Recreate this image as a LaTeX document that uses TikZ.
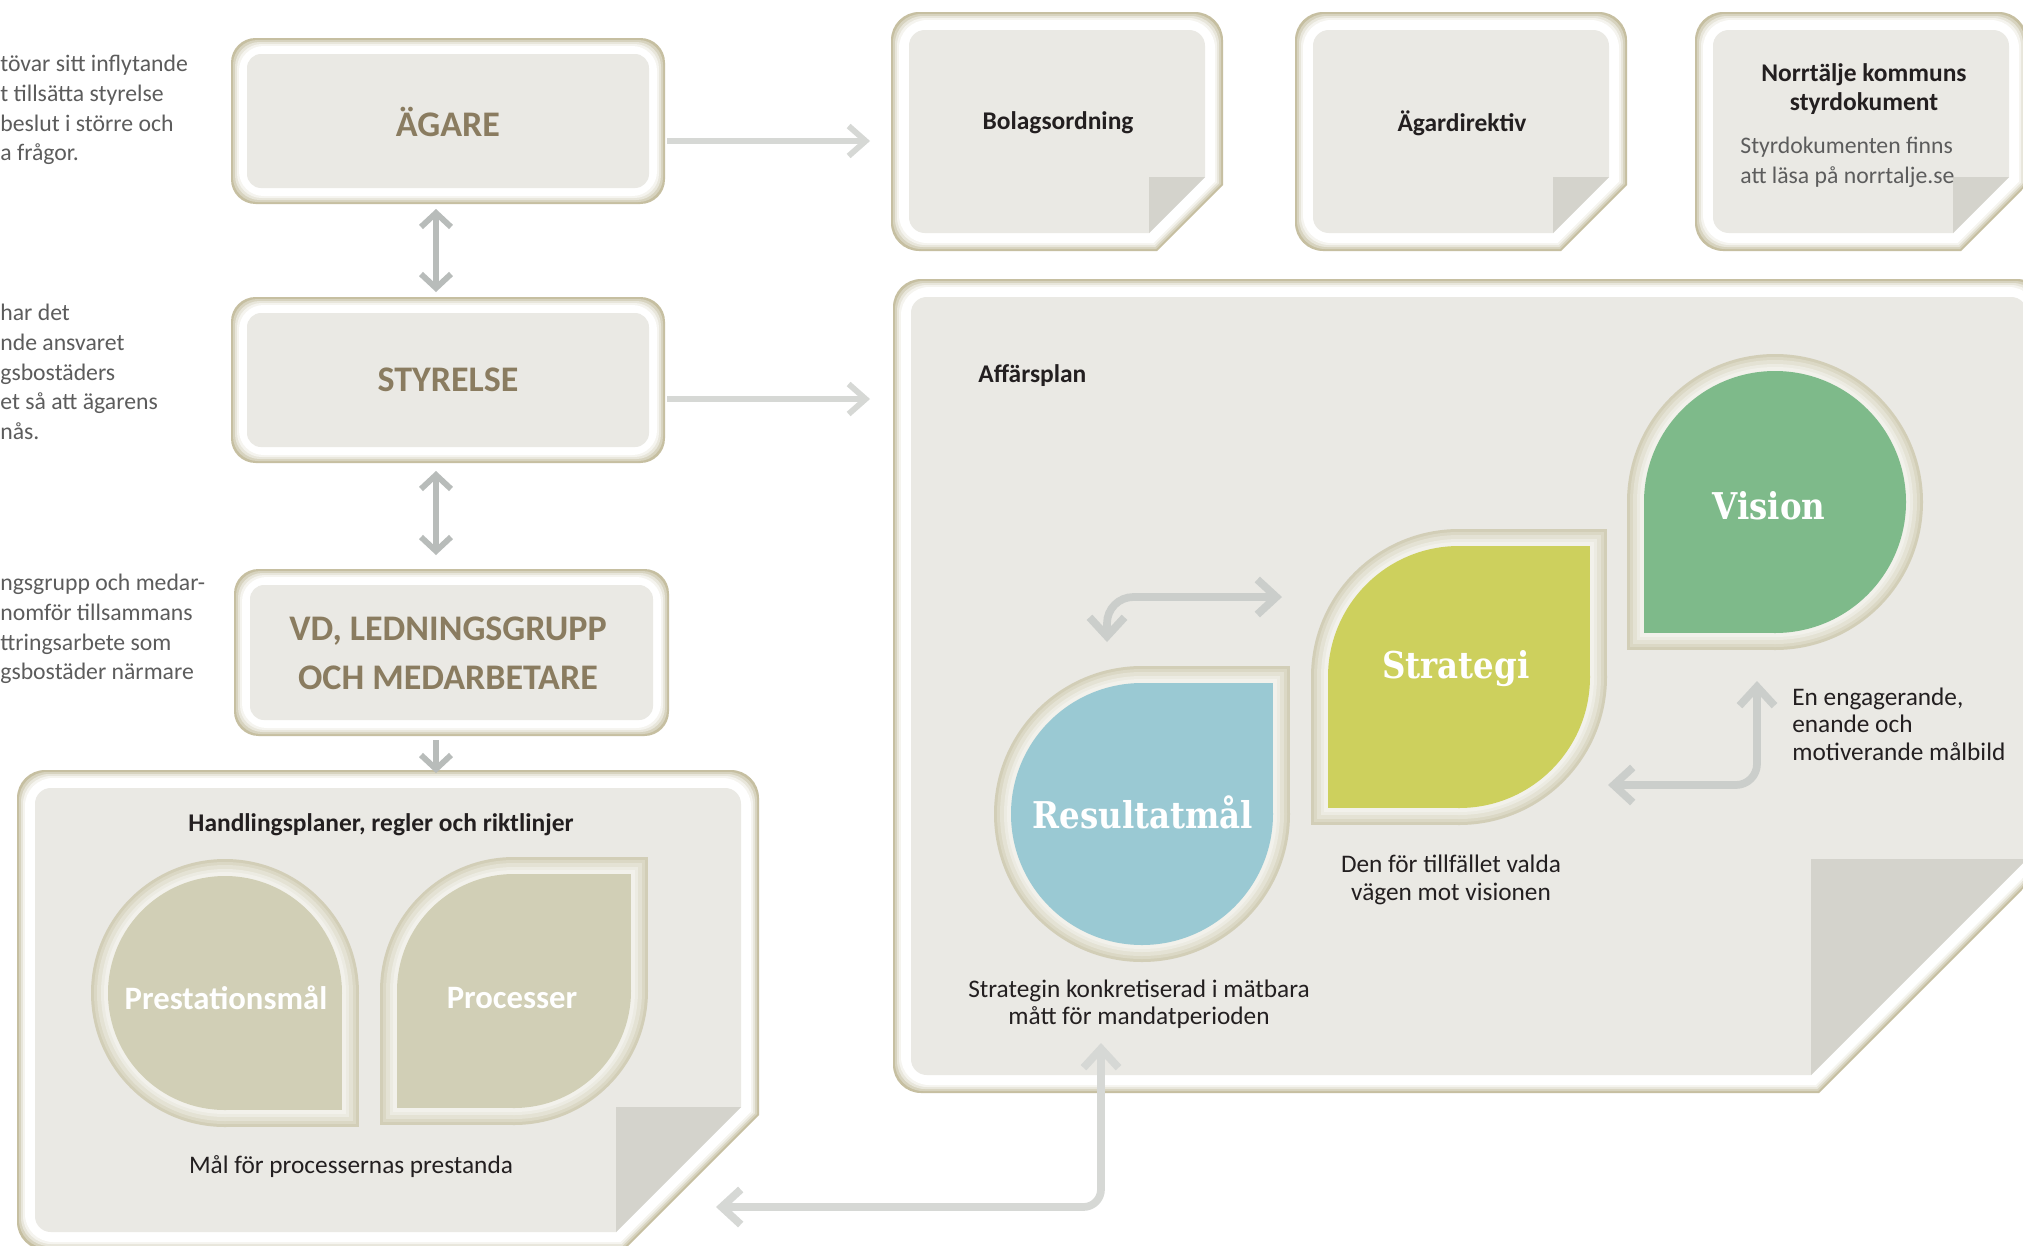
\documentclass[tikz,border=0pt]{standalone}
\usepackage{fontspec}
\setmainfont{Carlito}
\newfontfamily\slabfont[FakeStretch=0.88]{DejaVu Serif}
\usetikzlibrary{arrows.meta}

\definecolor{rimA}{HTML}{C6BFA1}
\definecolor{rimB}{HTML}{D7D3BF}
\definecolor{rimC}{HTML}{E8E6DB}
\definecolor{rimD}{HTML}{F5F4EF}
\definecolor{paper}{HTML}{EAE9E4}
\definecolor{fold}{HTML}{D4D3CC}
\definecolor{leafA}{HTML}{D2CEB7}
\definecolor{leafB}{HTML}{DBD8C5}
\definecolor{leafC}{HTML}{E4E2D4}
\definecolor{leafD}{HTML}{ECEBE2}
\definecolor{leafE}{HTML}{F2F1EB}
\definecolor{resultatfill}{HTML}{9AC9D3}
\definecolor{strategifill}{HTML}{CDD05D}
\definecolor{visionfill}{HTML}{7EBA8A}
\definecolor{planfill}{HTML}{D1CFB6}
\definecolor{titlebrown}{HTML}{8A7C60}
\definecolor{ink}{HTML}{231F20}
\definecolor{sidegrey}{HTML}{5C5C5C}
\definecolor{arrowdark}{HTML}{B8BCBA}
\definecolor{arrowmid}{HTML}{CBCECB}
\definecolor{arrowpale}{HTML}{D6D8D5}

% rounded plate with a bevelled rim
\newcommand\plate[4]{%
  \foreach \rimw/\rimc in {0/rimA,2/rimB,4/rimC,6/rimD,8/white}
    {\fill[\rimc, rounded corners=14pt] ({#1+\rimw},{#2+\rimw}) rectangle ({#3-\rimw},{#4-\rimw});}
  \fill[paper, rounded corners=8pt] ({#1+16},{#2+16}) rectangle ({#3-16},{#4-16});}

% sheet with a folded corner, #5 = size of the fold
\newcommand\sheet[5]{%
  \foreach \rimw/\rimc in {0/rimA,2/rimB,4/rimC,6/rimD,8/white}
    {\begin{scope}
      \clip ({#1+\rimw},{#2+\rimw}) -- ({#3-\rimw},{#2+\rimw}) -- ({#3-\rimw},{#4-#5-10-0.41*\rimw}) -- ({#3-#5-10-0.41*\rimw},{#4-\rimw}) -- ({#1+\rimw},{#4-\rimw}) -- cycle;
      \fill[\rimc, rounded corners=16pt] ({#1+\rimw},{#2+\rimw}) rectangle ({#3-\rimw},{#4-\rimw});
    \end{scope}}
  \begin{scope}
    \clip ({#1+18},{#2+18}) -- ({#3-18},{#2+18}) -- ({#3-18},{#4-18-#5}) -- ({#3-18-#5},{#4-18}) -- ({#1+18},{#4-18}) -- cycle;
    \fill[paper, rounded corners=9pt] ({#1+18},{#2+18}) rectangle ({#3-18},{#4-18});
  \end{scope}
  \fill[fold] ({#3-18-#5},{#4-18-#5}) -- ({#3-18},{#4-18-#5}) -- ({#3-18-#5},{#4-18}) -- cycle;}

% leaf: circle with square quadrants, #5 = list of square quadrants
\newcommand\leaf[5]{%
  \foreach \rimw/\rimc in {0/leafA,3/leafB,6/leafC,10/leafD,13/leafE,17/#4}
    {\fill[\rimc] (#1,#2) circle[radius={#3-\rimw}];
     \foreach \sx/\sy in {#5} \fill[\rimc] (#1,#2) rectangle ++({\sx*(#3-\rimw)},{\sy*(#3-\rimw)});}}

\begin{document}
\begin{tikzpicture}[x=0.02cm, y=-0.02cm, vtip/.tip={Straight Barb[length=0.28cm, width=0.6cm]}, htip/.tip={Straight Barb[length=0.34cm, width=0.6cm]}, btip/.tip={Straight Barb[length=0.38cm, width=0.7cm]}, boxtitle/.style={font=\fontsize{20.5}{28}\selectfont\bfseries, text=titlebrown, align=center}, doctext/.style={font=\fontsize{14.5}{16.5}\selectfont\bfseries, text=ink, align=center}, bodytext/.style={font=\fontsize{14.4}{15.6}\selectfont, text=ink, align=center}, sidetext/.style={font=\fontsize{13.5}{16.9}\selectfont, text=sidegrey, align=left, anchor=west, inner sep=0pt}, slabtext/.style={font=\slabfont\fontsize{21}{24}\selectfont\bfseries, text=white}, leaftext/.style={font=\fontsize{18.6}{22}\selectfont\bfseries, text=white}, vlink/.style={draw=arrowdark, line width=3.3pt, arrows={vtip-vtip}}, downlink/.style={draw=arrowdark, line width=3.3pt, arrows={-vtip}}, hlink/.style={draw=arrowpale, line width=3.3pt, arrows={-htip}}, blink/.style={draw=arrowmid, line width=4.4pt, arrows={btip-btip}}]
\useasboundingbox (0,0) rectangle (2023,1245);
\clip (0,0) rectangle (2023,1245);
\fill[white] (0,0) rectangle (2023,1245);

% side notes, cut at the left margin
\node[sidetext] (note1) at (0,110) {tövar sitt inflytande\\t tillsätta styrelse\\beslut i större och\\a frågor.};
\node[sidetext] (note2) at (0,372) {har det\\nde ansvaret\\gsbostäders\\et så att ägarens\\nås.};
\node[sidetext] (note3) at (0,629) {ngsgrupp och medar-\\nomför tillsammans\\ttringsarbete som\\gsbostäder närmare};

% organisation
\plate{231}{38}{665}{204}
\plate{231}{297}{665}{463}
\plate{234}{569}{669}{736}
\node[boxtitle] (agare) at (448,122) {ÄGARE};
\node[boxtitle] (styrelse) at (448,380) {STYRELSE};
\node[boxtitle] (vd) at (448,653) {VD, LEDNINGSGRUPP\\OCH MEDARBETARE};

% documents
\sheet{891}{12}{1223}{251}{56}
\sheet{1295}{12}{1627}{251}{56}
\sheet{1695}{12}{2027}{251}{56}
\sheet{893}{279}{2045}{1093}{216}
\sheet{17}{770}{759}{1250}{125}
\node[doctext] (bolag) at (1058,123) {Bolagsordning};
\node[doctext] (agardir) at (1462,123) {Ägardirektiv};
\node[doctext] (kommun) at (1864,89) {Norrtälje kommuns\\styrdokument};
\node[sidetext] (styrinfo) at (1740,162) {Styrdokumenten finns\\att läsa på norrtalje.se};
\node[doctext, anchor=west, inner sep=0pt] (affar) at (978,376) {Affärsplan};
\node[doctext] (handling) at (381,825) {Handlingsplaner, regler och riktlinjer};
\node[bodytext] (malfor) at (351,1167) {Mål för processernas prestanda};

% leaves
\leaf{1142}{814}{148}{resultatfill}{1/-1}
\leaf{1459}{677}{148}{strategifill}{1/-1,-1/1}
\leaf{1775}{502}{148}{visionfill}{-1/1}
\leaf{225}{993}{134}{planfill}{1/1}
\leaf{514}{991}{134}{planfill}{1/-1,-1/1}
\node[slabtext] (resultat) at (1143,812) {Resultatmål};
\node[slabtext] (strategi) at (1456,669) {Strategi};
\node[slabtext] (vision) at (1769,506) {Vision};
\node[leaftext] (prestation) at (226,998) {Prestationsmål};
\node[leaftext] (processer) at (512,998) {Processer};
\node[bodytext] (strategitext) at (1451,880) {Den för tillfället valda\\vägen mot visionen};
\node[bodytext] (resultattext) at (1139,1004) {Strategin konkretiserad i mätbara\\mått för mandatperioden};
\node[bodytext, anchor=west, align=left, inner sep=0pt] (visiontext) at (1792,724) {En engagerande,\\enande och\\motiverande målbild};

% connectors
\coordinate (agare-s) at (436,209);
\coordinate (styrelse-n) at (436,292);
\coordinate (styrelse-s) at (436,471);
\coordinate (vd-n) at (436,555);
\coordinate (vd-s) at (436,740);
\coordinate (handling-n) at (436,773);
\coordinate (agare-e) at (667,141);
\coordinate (bolag-w) at (870,141);
\coordinate (styrelse-e) at (667,399);
\coordinate (affar-w) at (870,399);
\coordinate (resultat-n) at (1107,642);
\coordinate (strategi-w) at (1282,597);
\coordinate (vision-s) at (1757,681);
\coordinate (strategi-e) at (1608,785);
\coordinate (resultat-s) at (1101,1043);
\coordinate (handling-e) at (716,1207);
\draw[vlink] (agare-s) -- (styrelse-n);
\draw[vlink] (styrelse-s) -- (vd-n);
\draw[downlink] (vd-s) -- (handling-n);
\draw[hlink] (agare-e) -- (bolag-w);
\draw[hlink] (styrelse-e) -- (affar-w);
\draw[blink, rounded corners=15pt] (strategi-w) -| (resultat-n);
\draw[blink, rounded corners=12pt] (vision-s) |- (strategi-e);
\draw[blink, draw=arrowpale, rounded corners=10pt] (resultat-s) |- (handling-e);
\end{tikzpicture}
\end{document}
